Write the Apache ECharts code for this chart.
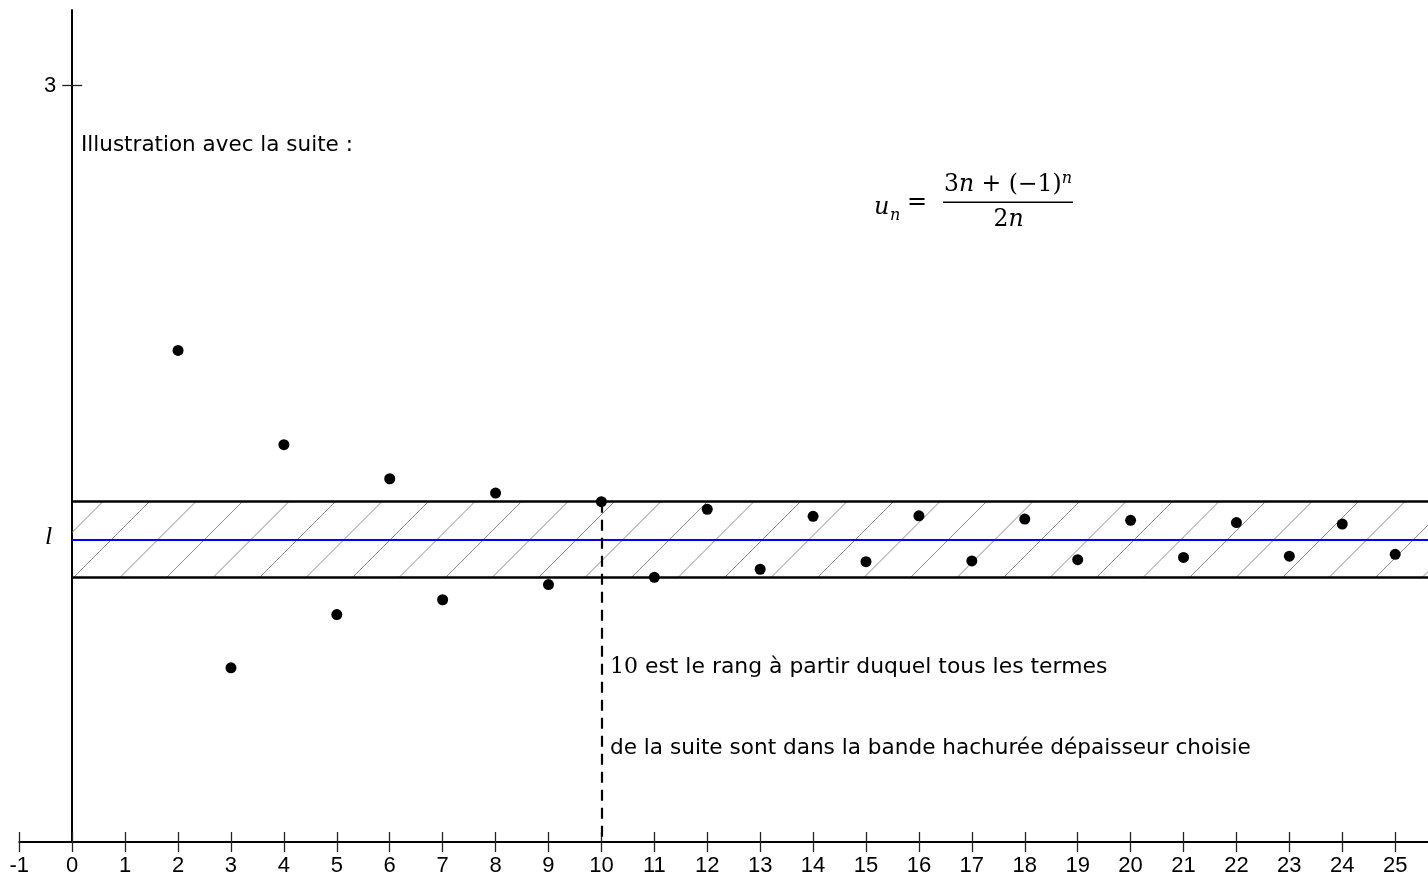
<!DOCTYPE html>
<html><head><meta charset="utf-8">
<script src="https://cdn.jsdelivr.net/npm/echarts@6/dist/echarts.min.js"></script>
<style>html,body{margin:0;padding:0;background:#fff}#c{width:1428px;height:878px}</style>
</head><body><div id="c"></div>
<script>
// ---- data ----
const ranks = [2,3,4,5,6,7,8,9,10,11,12,13,14,15,16,17,18,19,20,21,22,23,24,25];
const values = [1.950,0.691,1.576,0.902,1.441,0.961,1.384,1.021,1.350,1.050,1.320,1.082,1.292,1.112,1.294,1.115,1.281,1.120,1.276,1.129,1.267,1.134,1.261,1.141];
const limitL = 1.2;
const bandLow = 1.05;
const bandHigh = 1.35;
const rankN = 10;
const xTicks = [-1,0,1,2,3,4,5,6,7,8,9,10,11,12,13,14,15,16,17,18,19,20,21,22,23,24,25];
const xTickLabels = ['-1','0','1','2','3','4','5','6','7','8','9','10','11','12','13','14','15','16','17','18','19','20','21','22','23','24','25'];
const yTicks = [3];
const yLabelValues = [1.2, 3];
const yLabelTexts = ['l', '3'];
const xMin = -1, xMax = 25.62, yMin = 0, yMax = 3.3;

// hatch pattern
function hatchCanvas(){
  const s = 93, c = document.createElement('canvas');
  c.width = s; c.height = s;
  const g = c.getContext('2d');
  g.strokeStyle = '#8c8c8c'; g.lineWidth = 1;
  [0, 46.5, 93, 139.5, 186].forEach(k => {
    g.beginPath(); g.moveTo(k - s - 2, s + 2); g.lineTo(k + 2, -2); g.stroke();
  });
  return c;
}

const chart = echarts.init(document.getElementById('c'), null, {renderer:'canvas'});
const pts = ranks.map((n,i) => [n, values[i]]);
const sans = 'DejaVu Sans';
const serif = 'DejaVu Serif';
const gridLeft = 19.3, gridRight = 0;
const pxPerX = (1428 - gridLeft - gridRight) / (xMax - xMin);
const yAxisOffset = -(0 - xMin) * pxPerX; // put y axis at x = 0

const option = {
  animation: false,
  backgroundColor: '#fff',
  grid: {left: gridLeft, right: gridRight, top: 10.1, bottom: 36, outerBoundsMode: 'none', containLabel: false},
  xAxis: [{
    type: 'value', min: xMin, max: xMax,
    axisLine: {show: true, onZero: false, lineStyle: {color: '#000', width: 2}},
    axisTick: {show: true, inside: false, length: 10, customValues: xTicks, lineStyle: {color: '#222', width: 1.3}},
    axisLabel: {show: true, customValues: xTicks, margin: 13, color: '#000', fontFamily: 'Liberation Sans', fontSize: 22,
      formatter: v => xTickLabels[xTicks.indexOf(v)]},
    splitLine: {show: false}
  },{
    type: 'value', min: xMin, max: xMax, position: 'bottom',
    axisLine: {show: false, onZero: false},
    axisTick: {show: true, inside: true, length: 10, customValues: xTicks, lineStyle: {color: '#222', width: 1.3}},
    axisLabel: {show: false},
    splitLine: {show: false}
  }],
  yAxis: [{
    type: 'value', min: yMin, max: yMax, position: 'left', offset: yAxisOffset,
    axisLine: {show: true, onZero: false, lineStyle: {color: '#000', width: 2}},
    axisTick: {show: true, inside: false, length: 10, customValues: yTicks, lineStyle: {color: '#222', width: 1.3}},
    axisLabel: {show: true, customValues: yLabelValues, margin: 16, color: '#000', fontFamily: 'Liberation Sans', fontSize: 22,
      formatter: v => { const t = yLabelTexts[yLabelValues.indexOf(v)]; return t === 'l' ? '{l|l}' : t; },
      rich: {l: {fontFamily: 'Liberation Serif', fontStyle: 'italic', fontSize: 26, padding: [0, 4, 4, 0], color: '#000'}}},
    splitLine: {show: false}
  },{
    type: 'value', min: yMin, max: yMax, position: 'left', offset: yAxisOffset,
    axisLine: {show: false, onZero: false},
    axisTick: {show: true, inside: true, length: 10, customValues: yTicks, lineStyle: {color: '#222', width: 1.3}},
    axisLabel: {show: false},
    splitLine: {show: false}
  }],
  series: [{
    type: 'scatter', data: [], z: 1, silent: true,
    markArea: {
      silent: true,
      itemStyle: {color: {image: hatchCanvas(), repeat: 'repeat'}, borderWidth: 0},
      label: {show: false},
      data: [[{coord: [0, bandLow]}, {coord: [xMax, bandHigh]}]]
    },
    markLine: {
      silent: true, symbol: 'none', label: {show: false},
      emphasis: {disabled: true},
      data: [
        [{coord: [0, bandHigh], lineStyle: {color: '#000', width: 2.5, type: 'solid'}}, {coord: [xMax, bandHigh]}],
        [{coord: [0, bandLow], lineStyle: {color: '#000', width: 2.5, type: 'solid'}}, {coord: [xMax, bandLow]}],
        [{coord: [0, limitL], lineStyle: {color: '#0000ff', width: 2, type: 'solid'}}, {coord: [xMax, limitL]}],
        [{coord: [rankN, bandHigh], lineStyle: {color: '#000', width: 2.2, type: [11, 7]}}, {coord: [rankN, 0]}]
      ]
    }
  },{
    type: 'scatter', data: pts, z: 5, symbol: 'circle', symbolSize: 11,
    itemStyle: {color: '#000', opacity: 1}, silent: true
  }],
  graphic: [
    {type: 'text', x: 81, y: 145, style: {text: 'Illustration avec la suite :', fontFamily: sans, fontSize: 21.5, fill: '#000', verticalAlign: 'middle'}},
    {type: 'text', x: 874, y: 208, style: {text: 'u', fontFamily: serif, fontStyle: 'italic', fontSize: 24, fill: '#000', verticalAlign: 'middle'}},
    {type: 'text', x: 890, y: 215.5, style: {text: 'n', fontFamily: serif, fontStyle: 'italic', fontSize: 16, fill: '#000', verticalAlign: 'middle'}},
    {type: 'text', x: 907, y: 203, style: {text: '=', fontFamily: serif, fontSize: 24, fill: '#000', verticalAlign: 'middle'}},
    {type: 'text', x: 1008, y: 185, style: {
      text: '{r|3}{i|n}{r| + (−1)}{s|n}', align: 'center', verticalAlign: 'middle',
      rich: {
        r: {fontFamily: serif, fontSize: 23.5, fill: '#000', lineHeight: 28},
        i: {fontFamily: serif, fontStyle: 'italic', fontSize: 23.5, fill: '#000', lineHeight: 28},
        s: {fontFamily: serif, fontStyle: 'italic', fontSize: 16, fill: '#000', lineHeight: 16, verticalAlign: 'top'}
      }}},
    {type: 'line', shape: {x1: 943, y1: 202.3, x2: 1073, y2: 202.3}, style: {stroke: '#000', lineWidth: 1.6}},
    {type: 'text', x: 1008.5, y: 219.5, style: {
      text: '{r|2}{i|n}', align: 'center', verticalAlign: 'middle',
      rich: {
        r: {fontFamily: serif, fontSize: 23.5, fill: '#000'},
        i: {fontFamily: serif, fontStyle: 'italic', fontSize: 23.5, fill: '#000'}
      }}},
    {type: 'text', x: 610, y: 667, style: {
      text: '{m|10}{t| est le rang à partir duquel tous les termes}', verticalAlign: 'middle',
      rich: {
        m: {fontFamily: serif, fontSize: 22, fill: '#000'},
        t: {fontFamily: sans, fontSize: 21.9, fill: '#000'}
      }}},
    {type: 'text', x: 610, y: 748, style: {text: 'de la suite sont dans la bande hachurée dépaisseur choisie', fontFamily: sans, fontSize: 21.6, fill: '#000', verticalAlign: 'middle'}}
  ]
};
chart.setOption(option);
</script>
</body></html>
